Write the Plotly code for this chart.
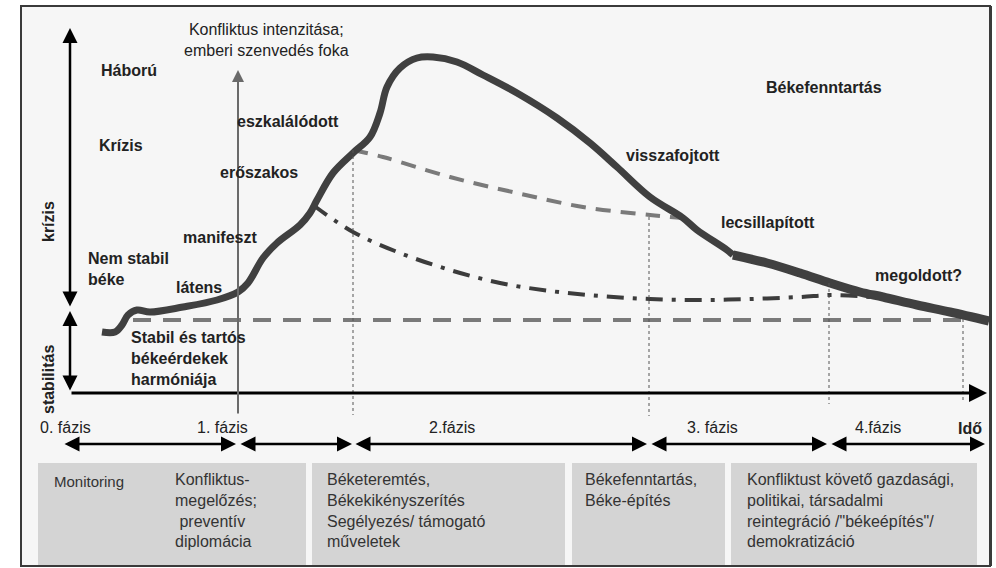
import plotly.graph_objects as go

# --- data (canvas units: x to the right, y downwards) ---
# main conflict curve: rise, peak and fall
curve_x = [102, 115, 122, 128, 137, 150, 183, 217, 238, 248, 263, 277, 300, 310, 317, 333, 353,
           370, 380, 387, 400, 417, 433, 457, 483, 517, 557, 590, 617, 650, 683, 697, 727, 733]
curve_y = [332, 332, 325, 315, 310, 312, 307, 300, 292, 283, 258, 243, 225, 213, 200, 173, 153,
           137, 113, 87, 68, 58, 57, 62, 75, 93, 118, 143, 167, 197, 218, 230, 250, 255]
# thicker settling tail
tail_x = [733, 767, 800, 830, 860, 883, 917, 950, 989]
tail_y = [255, 263, 273, 283, 292, 297, 305, 312, 321]
# dashed path after early intervention
dashed_x = [353, 383, 450, 517, 583, 650, 683]
dashed_y = [150, 157, 177, 193, 207, 215, 218]
# dash-dot path after prevention
dashdot_x = [313, 353, 400, 450, 500, 550, 600, 650, 700, 750, 800, 833, 870]
dashdot_y = [205, 232, 253, 270, 283, 291, 296, 299, 300, 299, 297, 295, 297]
# stable peace level
stable_x = [133, 989]
stable_y = [320, 320]

guide_x = [353, 649, 829, 963]
guide_top = [150, 217, 283, 319]
guide_bottom = [415, 416, 404, 402]

phase_start = [63, 239, 354, 650, 830]
phase_end = [236, 352, 647, 827, 985]
phase_labels = ["0. fázis", "1. fázis", "2.fázis", "3. fázis", "4.fázis"]
phase_label_x = [38, 195, 427, 685, 853]

box_x0 = [38, 312, 572, 731]
box_x1 = [306, 565, 725, 977]
box_texts = ["Konfliktus-<br>megelőzés;<br>\u00a0preventív<br>diplomácia",
             "Béketeremtés,<br>Békekikényszerítés<br>Segélyezés/ támogató<br>műveletek",
             "Békefenntartás,<br>Béke-építés",
             "Konfliktust követő gazdasági,<br>politikai, társadalmi<br>reintegráció /\"békeépítés\"/<br>demokratizáció"]
box_text_x = [173, 325, 583, 745]
box_text_y = [510, 510, 490, 510]

FONT = "Liberation Sans, Arial, sans-serif"

fig = go.Figure()

fig.add_trace(go.Scatter(x=stable_x, y=stable_y, mode="lines",
                         line=dict(color="#7a7a7a", width=4, dash="18px,12px")))
fig.add_trace(go.Scatter(x=dashed_x, y=dashed_y, mode="lines", line_shape="spline",
                         line=dict(color="#7a7a7a", width=4, dash="15px,10px")))
fig.add_trace(go.Scatter(x=dashdot_x, y=dashdot_y, mode="lines", line_shape="spline",
                         line=dict(color="#3c3c3c", width=4, dash="17px,9px,4px,9px")))
fig.add_trace(go.Scatter(x=curve_x, y=curve_y, mode="lines", line_shape="spline",
                         line=dict(color="#404040", width=7)))
fig.add_trace(go.Scatter(x=tail_x, y=tail_y, mode="lines", line_shape="spline",
                         line=dict(color="#404040", width=9)))

# dotted phase guides
for gx, gt, gb in zip(guide_x, guide_top, guide_bottom):
    fig.add_trace(go.Scatter(x=[gx, gx], y=[gt, gb], mode="lines",
                             line=dict(color="#555555", width=1, dash="dot")))

shapes = [dict(type="rect", x0=21, y0=6, x1=990, y1=566, fillcolor="#f6f6f6",
               line=dict(width=0), layer="below")]
for x0, x1 in zip(box_x0, box_x1):
    shapes.append(dict(type="rect", x0=x0, y0=463, x1=x1, y1=565, fillcolor="#d4d4d4",
                       line=dict(width=0), layer="below"))
# frame border on top
shapes.append(dict(type="rect", x0=21, y0=6, x1=990, y1=566, fillcolor="rgba(0,0,0,0)",
                   line=dict(color="#3a3a3a", width=2), layer="above"))
shapes.append(dict(type="line", x0=991, y0=6, x1=991, y1=566,
                   line=dict(color="#3a3a3a", width=2), layer="above"))

ann = []


def arrow(x, y, ax, ay, color="black", width=2.5, side="end", size=1.2):
    ann.append(dict(x=x, y=y, ax=ax, ay=ay, xref="x", yref="y", axref="x", ayref="y",
                    text="", showarrow=True, arrowhead=2, arrowsize=size, arrowwidth=width,
                    arrowcolor=color, arrowside=side))


def label(text, x, y, size=16, bold=True, xanchor="left", color="#222222", angle=0, align="left"):
    ann.append(dict(x=x, y=y, xref="x", yref="y", text=f"<b>{text}</b>" if bold else text,
                    showarrow=False, xanchor=xanchor, yanchor="middle", align=align,
                    textangle=angle, font=dict(family=FONT, size=size, color=color)))


# axes drawn as arrows
arrow(70, 28, 70, 308, side="end+start")
arrow(70, 311, 70, 392, side="end+start")
arrow(987, 393, 70, 393, width=3)
arrow(238, 70, 238, 415, color="#6a6a6a", width=2)
for s, e in zip(phase_start, phase_end):
    arrow(e, 444, s, 444, side="end+start", width=2.5)

label("Konfliktus intenzitása;<br>emberi szenvedés foka", 266, 40, bold=False,
      xanchor="center", align="center")
label("Háború", 99, 70)
label("Krízis", 97, 145)
label("eszkalálódott", 235, 121)
label("erőszakos", 218, 172)
label("manifeszt", 181, 237)
label("Nem stabil<br>béke", 86, 269)
label("látens", 174, 287)
label("Stabil és tartós<br>békeérdekek<br>harmóniája", 129, 358)
label("krízis", 48, 222, xanchor="center", angle=-90)
label("stabilitás", 48, 380, xanchor="center", angle=-90)
label("Békefenntartás", 764, 87)
label("visszafojtott", 624, 155)
label("lecsillapított", 719, 222)
label("megoldott?", 873, 275)

for t, lx in zip(phase_labels, phase_label_x):
    label(t, lx, 427, bold=False)
label("Idő", 956, 428)

label("Monitoring", 52, 481, size=15, bold=False, color="#333333")
for t, tx, ty in zip(box_texts, box_text_x, box_text_y):
    label(t, tx, ty, bold=False, color="#333333")

fig.update_layout(
    width=996, height=568,
    margin=dict(l=0, r=0, t=0, b=0, pad=0),
    paper_bgcolor="white", plot_bgcolor="white",
    showlegend=False,
    xaxis=dict(range=[0, 996], visible=False, fixedrange=True),
    yaxis=dict(range=[568, 0], visible=False, fixedrange=True),
    shapes=shapes, annotations=ann,
    font=dict(family=FONT),
)

fig.write_html("out.html", config={"displayModeBar": False},
               post_script="document.body.style.margin='0';document.body.style.overflow='hidden';")
